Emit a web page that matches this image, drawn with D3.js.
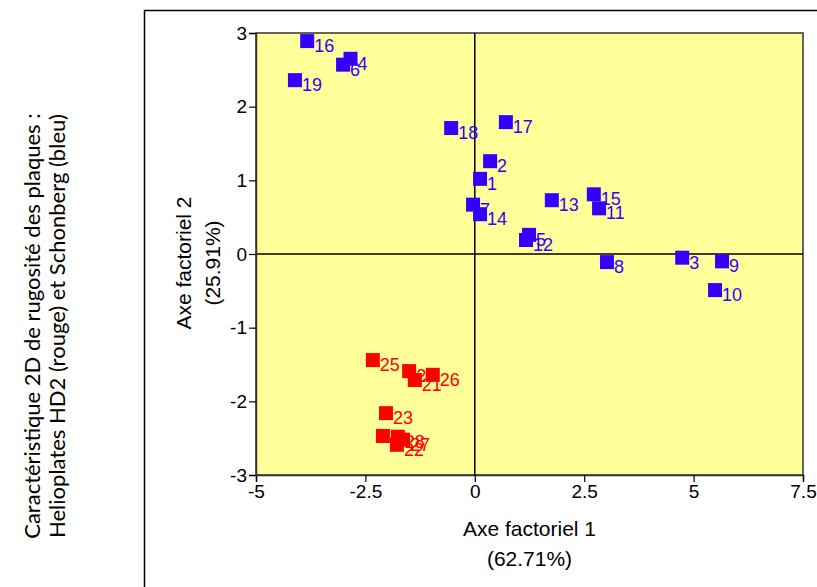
<!DOCTYPE html>
<html>
<head>
<meta charset="utf-8">
<script src="https://cdn.jsdelivr.net/npm/d3@7"></script>
<style>
  body { margin: 0; background: #fff; }
  svg text { font-family: "Liberation Sans", Arial, sans-serif; }
</style>
</head>
<body>
<svg id="chart" width="817" height="587"></svg>
<script>
// point ids, coordinates on both factorial axes, plate type
var ids = [1, 2, 3, 4, 5, 6, 7, 8, 9, 10, 11, 12, 13, 14, 15, 16, 17, 18, 19,
           20, 21, 22, 23, 24, 25, 26, 27, 28];
var axe1 = [0.12, 0.35, 4.74, -2.84, 1.24, -3.01, -0.04, 3.02, 5.65, 5.49, 2.84, 1.17, 1.76, 0.12, 2.72, -3.83, 0.71, -0.54, -4.11,
            -1.50, -1.37, -1.78, -2.03, -2.10, -2.33, -0.96, -1.64, -1.76];
var axe2 = [1.02, 1.26, -0.05, 2.65, 0.26, 2.57, 0.67, -0.11, -0.10, -0.49, 0.62, 0.19, 0.73, 0.54, 0.81, 2.89, 1.79, 1.71, 2.36,
            -1.59, -1.71, -2.59, -2.16, -2.47, -1.44, -1.64, -2.52, -2.48];
var groups = ["S", "S", "S", "S", "S", "S", "S", "S", "S", "S", "S", "S", "S", "S", "S", "S", "S", "S", "S",
              "H", "H", "H", "H", "H", "H", "H", "H", "H"];
var xTicks = [-5, -2.5, 0, 2.5, 5, 7.5];
var yTicks = [-3, -2, -1, 0, 1, 2, 3];

var colors = {S: "#3300ff", H: "#ff0000"};

var svg = d3.select("#chart");

// outer frame (runs off the picture on right and bottom)
svg.append("rect")
    .attr("x", 144.5).attr("y", 10.5)
    .attr("width", 700).attr("height", 600)
    .attr("fill", "none").attr("stroke", "#000").attr("stroke-width", 1.5);

var margin = {left: 256, top: 33, right: 803, bottom: 475};

var x = d3.scaleLinear().domain([-5, 7.5]).range([margin.left, margin.right]);
var y = d3.scaleLinear().domain([-3, 3]).range([margin.bottom, margin.top]);

// plot background
svg.append("rect")
    .attr("x", x(-5)).attr("y", y(3))
    .attr("width", x(7.5) - x(-5)).attr("height", y(-3) - y(3))
    .attr("fill", "#ffff99").attr("stroke", "#333").attr("stroke-width", 1.5);

// zero lines
svg.append("line")
    .attr("x1", x(0)).attr("x2", x(0)).attr("y1", y(3)).attr("y2", y(-3))
    .attr("stroke", "#000").attr("stroke-width", 1.5);
svg.append("line")
    .attr("x1", x(-5)).attr("x2", x(7.5)).attr("y1", y(0)).attr("y2", y(0))
    .attr("stroke", "#000").attr("stroke-width", 1.5);

// axes
var fmt = function(d) { return String(d); };
var xAxis = svg.append("g")
    .attr("transform", "translate(0," + margin.bottom + ")")
    .call(d3.axisBottom(x).tickValues(xTicks).tickSize(7).tickPadding(3).tickFormat(fmt));
var yAxis = svg.append("g")
    .attr("transform", "translate(" + margin.left + ",0)")
    .call(d3.axisLeft(y).tickValues(yTicks).tickSize(7).tickPadding(2).tickFormat(fmt));
[xAxis, yAxis].forEach(function(a) {
    a.select(".domain").attr("stroke", "#333").attr("stroke-width", 1.5);
    a.selectAll(".tick line").attr("stroke", "#000").attr("stroke-width", 1.2);
    a.selectAll(".tick text").attr("font-size", 19).attr("fill", "#000");
});

// axis titles
svg.append("text").attr("x", x(1.25)).attr("y", 536)
    .attr("text-anchor", "middle").attr("font-size", 21).text("Axe factoriel 1");
svg.append("text").attr("x", x(1.25)).attr("y", 566)
    .attr("text-anchor", "middle").attr("font-size", 21).text("(62.71%)");
svg.append("text")
    .attr("transform", "translate(191,263) rotate(-90)")
    .attr("text-anchor", "middle").attr("font-size", 21).text("Axe factoriel 2");
svg.append("text")
    .attr("transform", "translate(220,263) rotate(-90)")
    .attr("text-anchor", "middle").attr("font-size", 21).text("(25.91%)");

// side caption
svg.append("text")
    .attr("transform", "translate(40,326) rotate(-90)")
    .attr("text-anchor", "middle").attr("font-size", 22)
    .style("font-family", "Lato, 'Open Sans', sans-serif")
    .text("Caractéristique 2D de rugosité des plaques :");
svg.append("text")
    .attr("transform", "translate(65,326) rotate(-90)")
    .attr("text-anchor", "middle").attr("font-size", 22)
    .style("font-family", "Lato, 'Open Sans', sans-serif")
    .text("Helioplates HD2 (rouge) et Schonberg (bleu)");

// points with their labels
var pts = ids.map(function(id, i) {
    return {id: id, a1: axe1[i], a2: axe2[i], g: groups[i]};
});
var sz = 14;
var pg = svg.selectAll(".pt").data(pts).enter().append("g").attr("class", "pt");
pg.append("rect")
    .attr("x", function(d) { return x(d.a1) - sz / 2; })
    .attr("y", function(d) { return y(d.a2) - sz / 2; })
    .attr("width", sz).attr("height", sz)
    .attr("fill", function(d) { return colors[d.g]; });
pg.append("text")
    .attr("x", function(d) { return x(d.a1) + 7; })
    .attr("y", function(d) { return y(d.a2) + 11; })
    .attr("font-size", 18)
    .attr("fill", function(d) { return colors[d.g]; })
    .text(function(d) { return d.id; });
</script>
</body>
</html>
